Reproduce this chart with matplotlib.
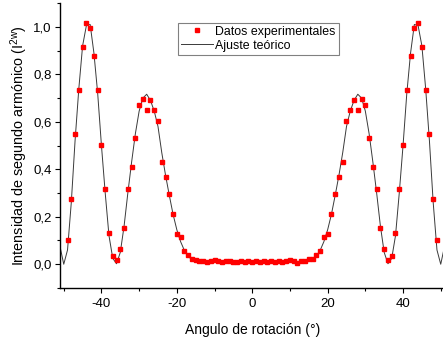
import matplotlib
matplotlib.use("Agg")
import matplotlib.pyplot as plt
from matplotlib.ticker import MultipleLocator, FuncFormatter

plt.rcParams['font.family'] = ['Liberation Sans', 'DejaVu Sans']
plt.rcParams['mathtext.default'] = 'regular'

# Experimental data (angle in degrees, normalized SHG intensity)
exp_angle = list(range(-49, 50))
exp_left = [0.100, 0.273, 0.547, 0.733, 0.913, 1.017, 0.996, 0.877, 0.733, 0.502,
            0.315, 0.133, 0.035, 0.018, 0.063, 0.152, 0.316, 0.411, 0.532, 0.669,
            0.697, 0.648, 0.690, 0.648, 0.604, 0.430, 0.369, 0.295, 0.213, 0.129,
            0.113, 0.056, 0.039, 0.021]
exp_mid = [0.018, 0.013, 0.013, 0.008, 0.015, 0.016, 0.012, 0.010, 0.014, 0.012,
           0.009, 0.011, 0.013, 0.010, 0.012, 0.008, 0.012, 0.010, 0.013, 0.011,
           0.012, 0.010, 0.014, 0.011, 0.013, 0.016, 0.015, 0.007, 0.013, 0.013,
           0.021]
exp_right = [0.021, 0.039, 0.056, 0.113, 0.129, 0.213, 0.295, 0.369, 0.430, 0.604,
             0.648, 0.690, 0.648, 0.697, 0.669, 0.532, 0.411, 0.316, 0.152, 0.063,
             0.018, 0.035, 0.133, 0.315, 0.502, 0.733, 0.877, 0.996, 1.017, 0.913,
             0.733, 0.547, 0.273, 0.100]
exp_values = exp_left + exp_mid + exp_right

# Theoretical fit curve
fit_angle = list(range(-51, 52))
fit_left = [0.075, 0.000, 0.060, 0.260, 0.520, 0.740, 0.920, 1.005, 1.010, 0.890,
            0.720, 0.500, 0.300, 0.120, 0.025, 0.002, 0.050, 0.160, 0.300, 0.430,
            0.550, 0.645, 0.700, 0.716, 0.690, 0.645, 0.580, 0.470, 0.375, 0.290,
            0.210, 0.145, 0.095, 0.058, 0.033, 0.020, 0.013]
fit_mid = [0.011, 0.010, 0.010, 0.010, 0.010, 0.010, 0.010, 0.010, 0.010, 0.010,
           0.010, 0.010, 0.010, 0.010, 0.010, 0.010, 0.010, 0.010, 0.010, 0.010,
           0.010, 0.010, 0.010, 0.010, 0.010, 0.010, 0.010, 0.010, 0.011]
fit_right = [0.013, 0.020, 0.033, 0.058, 0.095, 0.145, 0.210, 0.290, 0.375, 0.470,
             0.580, 0.645, 0.690, 0.716, 0.700, 0.645, 0.550, 0.430, 0.300, 0.160,
             0.050, 0.002, 0.025, 0.120, 0.300, 0.500, 0.720, 0.890, 1.010, 1.005,
             0.920, 0.740, 0.520, 0.260, 0.060, 0.000, 0.075]
fit_values = fit_left + fit_mid + fit_right

legend_labels = ["Datos experimentales", "Ajuste teórico"]
xlabel = "Angulo de rotación (°)"
ylabel = "Intensidad de segundo armónico (I$^{2w}$)"

fig = plt.figure(figsize=(4.43, 3.42), dpi=100)
ax = fig.add_axes([0.1354, 0.158, 0.868, 0.833])

ax.plot(fit_angle, fit_values, color='#3a3a3a', lw=0.7, label=legend_labels[1], zorder=2)
ax.plot(exp_angle, exp_values, ls='none', marker='s', ms=3.2, color='#ff0000',
        mec='#ff0000', label=legend_labels[0], zorder=3)

ax.set_xlim(-51, 51)
ax.set_ylim(-0.1, 1.1)
ax.xaxis.set_major_locator(MultipleLocator(20))
ax.xaxis.set_minor_locator(MultipleLocator(10))
ax.yaxis.set_major_locator(MultipleLocator(0.2))
ax.yaxis.set_minor_locator(MultipleLocator(0.1))
ax.yaxis.set_major_formatter(FuncFormatter(lambda v, p: f"{v:.1f}".replace('.', ',').replace('-0,0', '0,0')))
ax.xaxis.set_major_formatter(FuncFormatter(lambda v, p: f"{v:.0f}"))

for s in ['top', 'right']:
    ax.spines[s].set_visible(False)
for s in ['left', 'bottom']:
    ax.spines[s].set_linewidth(1.0)

ax.tick_params(which='major', direction='out', length=3.5, width=0.8, labelsize=9.5)
ax.tick_params(axis='x', which='major', pad=3.5)
ax.tick_params(axis='y', which='major', pad=2.5)
ax.tick_params(which='minor', direction='out', length=2.5, width=0.8)

ax.set_xlabel(xlabel, fontsize=10, labelpad=9.5)
ax.set_ylabel(ylabel, fontsize=10.4, labelpad=2)

handles, labels = ax.get_legend_handles_labels()
leg = ax.legend(handles[::-1], labels[::-1], loc='upper left', bbox_to_anchor=(0.307, 0.931),
                borderaxespad=0, fontsize=8.9, frameon=True, fancybox=False,
                edgecolor='#808080', framealpha=1, numpoints=1, handlelength=2.6,
                handletextpad=0.15, labelspacing=0.15, borderpad=0.25)
leg.get_frame().set_linewidth(0.8)

fig.savefig("out.png", dpi=100)
